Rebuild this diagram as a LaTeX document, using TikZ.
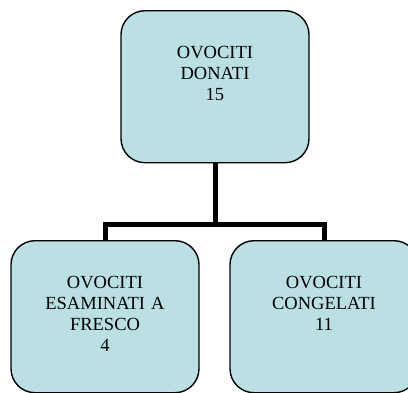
\documentclass[tikz,border=0pt]{standalone}
\usepackage{fontspec}
\setmainfont{Liberation Serif}
\definecolor{boxfill}{RGB}{186,224,227}
\begin{document}
\begin{tikzpicture}[x=1pt,y=-1pt,
  cellbox/.style={draw, line width=1.4pt, fill=boxfill, rounded corners=24pt, anchor=north,
    inner sep=0pt, align=center, text width=188pt, text height=48pt, text depth=104pt,
    font=\fontsize{18.5}{21}\selectfont},
  link/.style={line width=5pt, line join=miter}]
\useasboundingbox (0,0) rectangle (408,392);
\clip (0,0) rectangle (408,392);
\node[cellbox] (donati) at (215,10) {OVOCITI\\DONATI\\15};
\node[cellbox] (fresco) at (105,240) {OVOCITI\\ESAMINATI A\\FRESCO\\4};
\node[cellbox] (congelati) at (324,240) {OVOCITI\\CONGELATI\\11};
\coordinate (bar) at (215,224);
\draw[link] (donati.south) -- (bar);
\draw[link] (fresco.north) |- (bar) -| (congelati.north);
\end{tikzpicture}
\end{document}
